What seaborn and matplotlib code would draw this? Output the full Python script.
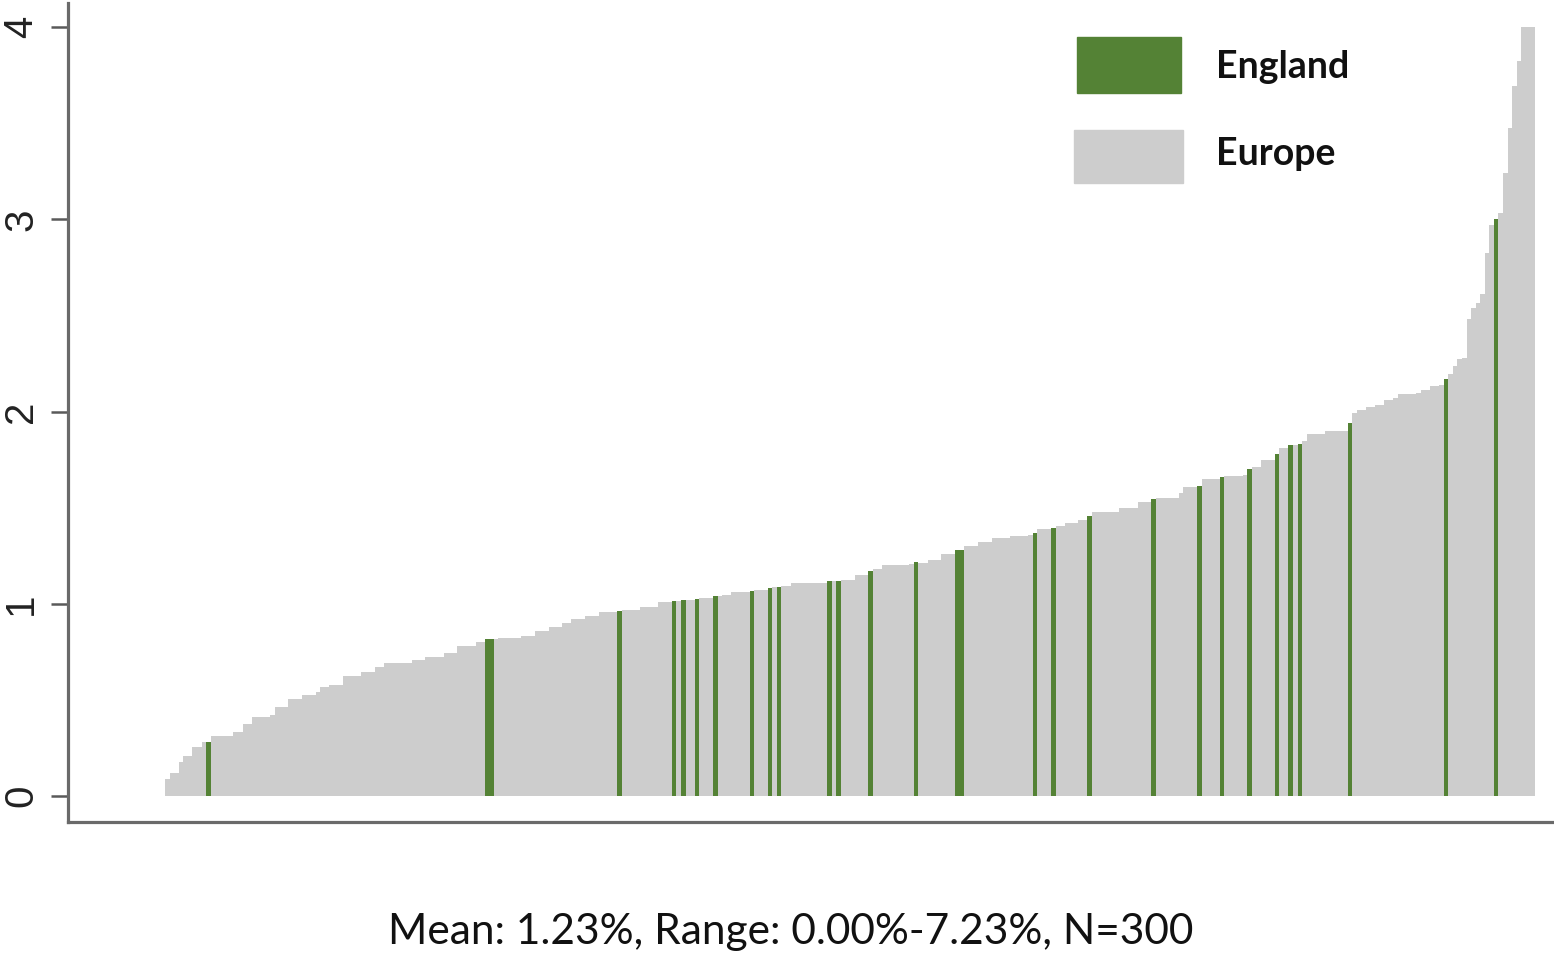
import numpy as np
import pandas as pd
import matplotlib
matplotlib.use('Agg')
import matplotlib.pyplot as plt
import seaborn as sns
from matplotlib.patches import Rectangle

# Sorted rates (%) for the 300 regions
rates = [
    0.087, 0.118, 0.118, 0.179, 0.208, 0.208, 0.257, 0.257, 0.283, 0.283,
    0.314, 0.314, 0.314, 0.314, 0.314, 0.335, 0.335, 0.375, 0.375, 0.413,
    0.413, 0.413, 0.413, 0.420, 0.465, 0.465, 0.465, 0.503, 0.503, 0.503,
    0.526, 0.526, 0.526, 0.540, 0.566, 0.566, 0.578, 0.578, 0.578, 0.625,
    0.625, 0.625, 0.625, 0.647, 0.647, 0.647, 0.670, 0.670, 0.691, 0.691,
    0.691, 0.691, 0.691, 0.691, 0.708, 0.708, 0.708, 0.722, 0.722, 0.722,
    0.722, 0.743, 0.743, 0.743, 0.778, 0.778, 0.778, 0.778, 0.799, 0.799,
    0.816, 0.816, 0.816, 0.821, 0.821, 0.821, 0.821, 0.821, 0.833, 0.833,
    0.833, 0.856, 0.856, 0.856, 0.879, 0.879, 0.879, 0.899, 0.899, 0.920,
    0.920, 0.920, 0.934, 0.934, 0.934, 0.955, 0.955, 0.955, 0.955, 0.960,
    0.969, 0.969, 0.969, 0.969, 0.983, 0.983, 0.983, 0.983, 1.007, 1.007,
    1.007, 1.012, 1.012, 1.021, 1.021, 1.021, 1.024, 1.030, 1.030, 1.030,
    1.038, 1.038, 1.047, 1.047, 1.059, 1.059, 1.059, 1.059, 1.064, 1.073,
    1.073, 1.073, 1.082, 1.085, 1.087, 1.090, 1.090, 1.108, 1.108, 1.108,
    1.108, 1.108, 1.108, 1.108, 1.110, 1.116, 1.116, 1.121, 1.125, 1.125,
    1.125, 1.151, 1.151, 1.151, 1.172, 1.181, 1.181, 1.203, 1.203, 1.203,
    1.203, 1.203, 1.203, 1.205, 1.215, 1.212, 1.212, 1.229, 1.229, 1.229,
    1.260, 1.260, 1.260, 1.278, 1.278, 1.299, 1.299, 1.299, 1.319, 1.319,
    1.319, 1.342, 1.342, 1.342, 1.342, 1.354, 1.354, 1.354, 1.354, 1.360,
    1.368, 1.389, 1.389, 1.389, 1.394, 1.406, 1.406, 1.420, 1.420, 1.420,
    1.438, 1.438, 1.458, 1.476, 1.476, 1.476, 1.476, 1.476, 1.476, 1.498,
    1.498, 1.498, 1.498, 1.528, 1.528, 1.528, 1.545, 1.550, 1.550, 1.550,
    1.550, 1.550, 1.577, 1.606, 1.608, 1.608, 1.615, 1.649, 1.649, 1.649,
    1.649, 1.658, 1.663, 1.663, 1.663, 1.663, 1.670, 1.701, 1.712, 1.712,
    1.750, 1.750, 1.750, 1.781, 1.811, 1.811, 1.828, 1.828, 1.833, 1.845,
    1.885, 1.885, 1.885, 1.885, 1.897, 1.897, 1.897, 1.897, 1.897, 1.938,
    1.993, 2.007, 2.007, 2.024, 2.024, 2.036, 2.036, 2.059, 2.059, 2.071,
    2.089, 2.089, 2.089, 2.089, 2.097, 2.111, 2.111, 2.132, 2.132, 2.140,
    2.170, 2.193, 2.236, 2.275, 2.280, 2.483, 2.540, 2.565, 2.610, 2.826,
    2.969, 3.003, 3.035, 3.243, 3.477, 3.691, 3.824, 4.350, 5.100, 7.230,
]

# positions (rank) of the England regions
england_idx = [9, 70, 71, 99, 111, 113, 116, 120, 128, 132, 134, 145, 147,
               154, 164, 173, 174, 190, 194, 202, 216, 226, 231, 237, 243,
               246, 248, 259, 280, 291]

y_ticks = [0, 1, 2, 3, 4]
legend_labels = ['England', 'Europe']
subtitle = 'Mean: 1.23%, Range: 0.00%-7.23%, N=300'

colors = {'England': '#548235', 'Europe': '#cdcdcd'}

df = pd.DataFrame({'rank': np.arange(len(rates)), 'rate': rates})
df['region'] = np.where(df['rank'].isin(england_idx), 'England', 'Europe')

sns.set_style('white')
plt.rcParams['font.family'] = ['Liberation Sans', 'DejaVu Sans']

W, H = 1554, 959
fig = plt.figure(figsize=(W / 100, H / 100), dpi=100)
ax = fig.add_axes([68 / W, 1 - 822 / H, 1 - 68 / W, (822 - 3) / H])

sns.barplot(data=df, x='rank', y='rate', hue='region', palette=colors,
            hue_order=legend_labels, dodge=False, width=1.0, errorbar=None,
            saturation=1, linewidth=0, legend=False, ax=ax)

# bars above 4 are cut at the top of the scale
clip = Rectangle((-50, -1), 400, 5, transform=ax.transData)
for p in ax.patches:
    p.set_clip_path(clip)

ax.set_xlim(-21.74, 303.66)
ax.set_ylim(-0.135, 4.125)
ax.set_xticks([])
ax.set_xlabel('')
ax.set_ylabel('')
ax.set_yticks(y_ticks)
ax.set_yticklabels([str(t) for t in y_ticks], rotation=90, va='center')
ax.tick_params(axis='y', left=True, length=12, width=1.8, color='#5a5a5a',
               pad=8, labelsize=29, labelcolor='#222222')
sns.despine(ax=ax)
for side in ['left', 'bottom']:
    ax.spines[side].set_color('#6a6a6a')
    ax.spines[side].set_linewidth(2.3)

# legend boxes
fig.patches.append(Rectangle((1077 / W, 1 - 93 / H), 104 / W, 56 / H,
                             transform=fig.transFigure, color=colors['England']))
fig.patches.append(Rectangle((1074 / W, 1 - 183 / H), 109 / W, 53 / H,
                             transform=fig.transFigure, color=colors['Europe']))
for label, yc in zip(legend_labels, [67, 154]):
    fig.text(1216 / W, 1 - yc / H, label, ha='left', va='center',
             fontsize=27, fontweight='bold', family=['Lato', 'DejaVu Sans'],
             color='#111111')

fig.text(791 / W, 1 - 932 / H, subtitle, ha='center', va='center',
         fontsize=30.5, family=['Lato', 'DejaVu Sans'], color='#111111')

fig.savefig('out.png', dpi=100)
